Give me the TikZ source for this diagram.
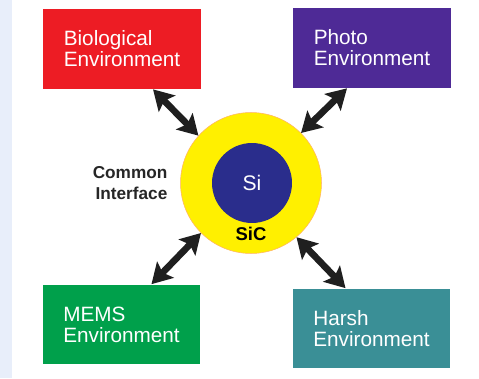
\documentclass[tikz,border=0pt]{standalone}
\usepackage{fontspec}
\setmainfont{Liberation Sans}
\usetikzlibrary{positioning, arrows.meta}
\definecolor{bioCol}{RGB}{237, 28, 36}
\definecolor{photoCol}{RGB}{78, 42, 150}
\definecolor{memsCol}{RGB}{0, 160, 75}
\definecolor{harshCol}{RGB}{58, 143, 150}
\definecolor{sicCol}{RGB}{255, 240, 0}
\definecolor{siCol}{RGB}{42, 45, 140}
\definecolor{stripCol}{RGB}{232, 238, 250}
\tikzset{myEnvBox/.style={rectangle, minimum width=3.16cm, minimum height=1.6cm, text=white, align=left, font=\fontsize{11.8}{12}\selectfont}}
\tikzset{myLink/.style={line width=3.8pt, color=black!88, {Stealth[length=0.4cm, width=0.46cm, inset=0.08cm]}-{Stealth[length=0.4cm, width=0.46cm, inset=0.08cm]}}}

\begin{document}
\begin{tikzpicture}[x=0.02cm, y=-0.02cm]
	\useasboundingbox (0,0) rectangle (479,378);
	\fill[stripCol] (0,0) rectangle (12,378);
	%\draw[help lines, step=10] (0,0) grid (479,378);
	\node[myEnvBox, fill=bioCol] (bio) at (122,49) {Biological\\Environment};
	\node[myEnvBox, fill=photoCol] (photo) at (372,48) {Photo\\Environment};
	\node[myEnvBox, fill=memsCol] (mems) at (121.5,324.5) {MEMS\\Environment};
	\node[myEnvBox, fill=harshCol] (harsh) at (371.5,328.5) {Harsh\\Environment};

	\node[circle, fill=sicCol, draw=orange!60, line width=0.3pt, minimum size=2.82cm, inner sep=0pt] (sic) at (251,183) {};
	\node[circle, fill=siCol, minimum size=1.6cm, text=white, font=\fontsize{12}{14}\selectfont] (si) at (252,183) {Si};
	\node[anchor=base, font=\bfseries\fontsize{10.5}{12}\selectfont] (sicText) at ([yshift=0.26cm]sic.south) {SiC};
	\node[left=0.25cm of sic.west, inner sep=0pt, align=right, text=black!85, font=\bfseries\fontsize{9.8}{12}\selectfont] (iface) {Common\\Interface};

	\draw[myLink] ([xshift=0.62cm]bio.south) -- (sic.138);
	\draw[myLink] ([xshift=-0.5cm]photo.south) -- (sic.45);
	\draw[myLink] ([xshift=0.6cm]mems.north) -- (sic.225);
	\draw[myLink] ([xshift=-0.52cm]harsh.north) -- (sic.310);
\end{tikzpicture}
\end{document}
